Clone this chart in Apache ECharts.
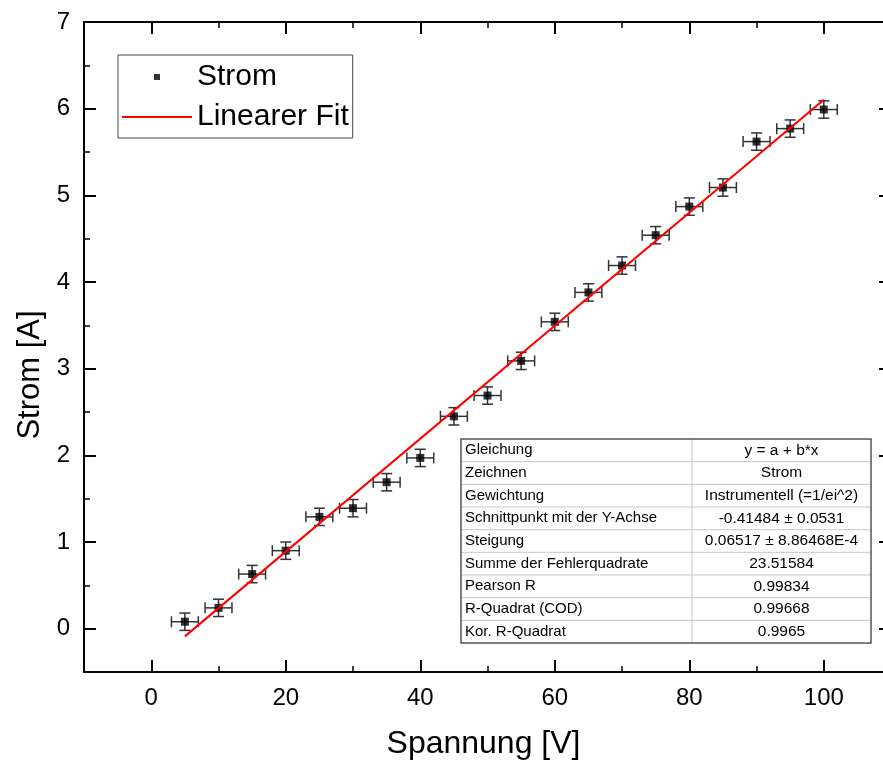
<!DOCTYPE html>
<html><head><meta charset="utf-8">
<script src="https://cdn.jsdelivr.net/npm/echarts@6/dist/echarts.min.js"></script>
<style>html,body{margin:0;padding:0;background:#fff}#c{width:883px;height:767px}</style>
</head><body><div id="c"></div>
<script>
// ---- data ----
const voltage    = [5, 10, 15, 20, 25, 30, 35, 40, 45, 50, 55, 60, 65, 70, 75, 80, 85, 90, 95, 100];
const current    = [0.08, 0.24, 0.63, 0.90, 1.29, 1.39, 1.69, 1.97, 2.45, 2.69, 3.09, 3.54, 3.88, 4.19, 4.54, 4.87, 5.09, 5.62, 5.77, 5.99];
const voltageErr = [2, 2, 2, 2, 2, 2, 2, 2, 2, 2, 2, 2, 2, 2, 2, 2, 2, 2, 2, 2];
const currentErr = [0.1, 0.1, 0.1, 0.1, 0.1, 0.1, 0.1, 0.1, 0.1, 0.1, 0.1, 0.1, 0.1, 0.1, 0.1, 0.1, 0.1, 0.1, 0.1, 0.1];
const fitX = [5, 100];
const fitY = [-0.089, 6.102];
const xMajorTicks = [0, 20, 40, 60, 80, 100];
const xMinorTicks = [10, 30, 50, 70, 90];
const yMajorTicks = [0, 1, 2, 3, 4, 5, 6, 7];
const yMinorTicks = [0.5, 1.5, 2.5, 3.5, 4.5, 5.5, 6.5];
const tableLabels = ['Gleichung', 'Zeichnen', 'Gewichtung', 'Schnittpunkt mit der Y-Achse', 'Steigung',
  'Summe der Fehlerquadrate', 'Pearson R', 'R-Quadrat (COD)', 'Kor. R-Quadrat'];
const tableValues = ['y = a + b*x', 'Strom', 'Instrumentell (=1/ei^2)', '-0.41484 \u00b1 0.0531', '0.06517 \u00b1 8.86468E-4',
  '23.51584', '0.99834', '0.99668', '0.9965'];

// ---- chart ----
const FONT = '"Liberation Sans", Arial, sans-serif';
const chart = echarts.init(document.getElementById('c'), null, {renderer: 'canvas'});

function majorAxis(pos, ticks, withLabels, extra) {
  return Object.assign({
    type: 'value', position: pos,
    axisLine: {show: true, onZero: false, lineStyle: {color: '#000', width: 2}},
    axisTick: {show: true, inside: true, length: 12, customValues: ticks, lineStyle: {color: '#000', width: 2}},
    axisLabel: withLabels ? {show: true, customValues: ticks, fontSize: 24, color: '#000', fontFamily: FONT, margin: 14}
                          : {show: false},
    splitLine: {show: false}
  }, extra);
}
function minorAxis(pos, ticks, extra) {
  return Object.assign({
    type: 'value', position: pos,
    axisLine: {show: false, onZero: false},
    axisTick: {show: true, inside: true, length: 6, customValues: ticks, lineStyle: {color: '#000', width: 1.5}},
    axisLabel: {show: false},
    splitLine: {show: false}
  }, extra);
}
const xr = {min: -10, max: 108.8};
const yr = {min: -0.5, max: 7};

const dataPts = voltage.map((v, i) => [v, current[i]]);
const errPts = voltage.map((v, i) => [v, current[i], voltageErr[i], currentErr[i]]);
const fitPts = fitX.map((v, i) => [v, fitY[i]]);

// table graphic
const tbl = {left: 461, top: 439, width: 410, height: 204, split: 231};
const rowH = tbl.height / tableLabels.length;
const tableEls = [];
tableEls.push({type: 'rect', shape: {x: tbl.left, y: tbl.top, width: tbl.width, height: tbl.height},
  style: {fill: '#fff', stroke: 'none'}, z: 100});
for (let i = 1; i < tableLabels.length; i++) {
  tableEls.push({type: 'line', shape: {x1: tbl.left, y1: tbl.top + i * rowH, x2: tbl.left + tbl.width, y2: tbl.top + i * rowH},
    style: {stroke: '#c8c8c8', lineWidth: 1}, z: 101});
}
tableEls.push({type: 'line', shape: {x1: tbl.left + tbl.split, y1: tbl.top, x2: tbl.left + tbl.split, y2: tbl.top + tbl.height},
  style: {stroke: '#c8c8c8', lineWidth: 1}, z: 101});
tableEls.push({type: 'rect', shape: {x: tbl.left, y: tbl.top, width: tbl.width, height: tbl.height},
  style: {fill: 'none', stroke: '#555', lineWidth: 1.5}, z: 102});
tableLabels.forEach((t, i) => {
  tableEls.push({type: 'text', x: tbl.left + 4, y: tbl.top + (i + 0.5) * rowH, z: 103,
    style: {text: t, fontSize: 15, fontFamily: FONT, fill: '#000', verticalAlign: 'middle', align: 'left'}});
  tableEls.push({type: 'text', x: tbl.left + tbl.split + (tbl.width - tbl.split) / 2, y: tbl.top + (i + 0.5) * rowH, z: 103,
    style: {text: tableValues[i], fontSize: 15.5, fontFamily: FONT, fill: '#000', verticalAlign: 'middle', align: 'center'}});
});

chart.setOption({
  animation: false,
  backgroundColor: '#fff',
  textStyle: {fontFamily: FONT},
  grid: {left: 84, top: 22, right: 0, bottom: 95, containLabel: false},
  xAxis: [
    majorAxis('bottom', xMajorTicks, true, Object.assign({name: 'Spannung [V]', nameLocation: 'middle', nameGap: 56,
      nameTextStyle: {fontSize: 32, color: '#000', fontFamily: FONT}}, xr)),
    majorAxis('top', xMajorTicks, false, xr),
    minorAxis('bottom', xMinorTicks, xr),
    minorAxis('top', xMinorTicks, xr)
  ],
  yAxis: [
    majorAxis('left', yMajorTicks, true, Object.assign({name: 'Strom [A]', nameLocation: 'middle', nameGap: 36,
      nameTextStyle: {fontSize: 31, color: '#000', fontFamily: FONT, padding: [0, 56, 0, 0]}}, yr)),
    Object.assign({
      type: 'value', position: 'right',
      axisLine: {show: false, onZero: false},
      axisTick: {show: true, inside: true, length: 4, customValues: yMajorTicks, lineStyle: {color: '#000', width: 2}},
      axisLabel: {show: false},
      splitLine: {show: false}
    }, yr),
    minorAxis('left', yMinorTicks, yr)
  ],
  legend: {
    orient: 'vertical', left: 118, top: 55, padding: [7, 4, 6, 4],
    itemWidth: 70, itemHeight: 6, itemGap: 10,
    borderColor: '#444', borderWidth: 1, backgroundColor: '#fff',
    textStyle: {fontSize: 30, color: '#000', fontFamily: FONT},
    data: [
      {name: 'Strom', icon: 'path://M0,0h10v10h-10z'},
      {name: 'Linearer Fit', icon: 'path://M0,0h70v2h-70z'}
    ]
  },
  graphic: tableEls,
  series: [
    {
      name: 'Fehler', type: 'custom', data: errPts, z: 2,
      encode: {x: 0, y: 1},
      renderItem: function (params, api) {
        const x = api.value(0), y = api.value(1), xe = api.value(2), ye = api.value(3);
        const l = api.coord([x - xe, y]), r = api.coord([x + xe, y]);
        const t = api.coord([x, y + ye]), b = api.coord([x, y - ye]);
        const cap = 5.5;
        const st = {stroke: '#333', lineWidth: 1.5};
        const seg = (x1, y1, x2, y2) => ({type: 'line', shape: {x1, y1, x2, y2}, style: st});
        return {type: 'group', children: [
          seg(l[0], l[1], r[0], r[1]),
          seg(l[0], l[1] - cap, l[0], l[1] + cap),
          seg(r[0], r[1] - cap, r[0], r[1] + cap),
          seg(t[0], t[1], b[0], b[1]),
          seg(t[0] - cap, t[1], t[0] + cap, t[1]),
          seg(b[0] - cap, b[1], b[0] + cap, b[1])
        ]};
      }
    },
    {
      name: 'Strom', type: 'scatter', data: dataPts, symbol: 'rect', symbolSize: 8, z: 3,
      itemStyle: {color: '#000'}
    },
    {
      name: 'Linearer Fit', type: 'line', data: fitPts, symbol: 'none', showSymbol: false, z: 4,
      lineStyle: {color: '#ff0000', width: 2}, itemStyle: {color: '#ff0000'}
    }
  ]
});
</script>
</body></html>
